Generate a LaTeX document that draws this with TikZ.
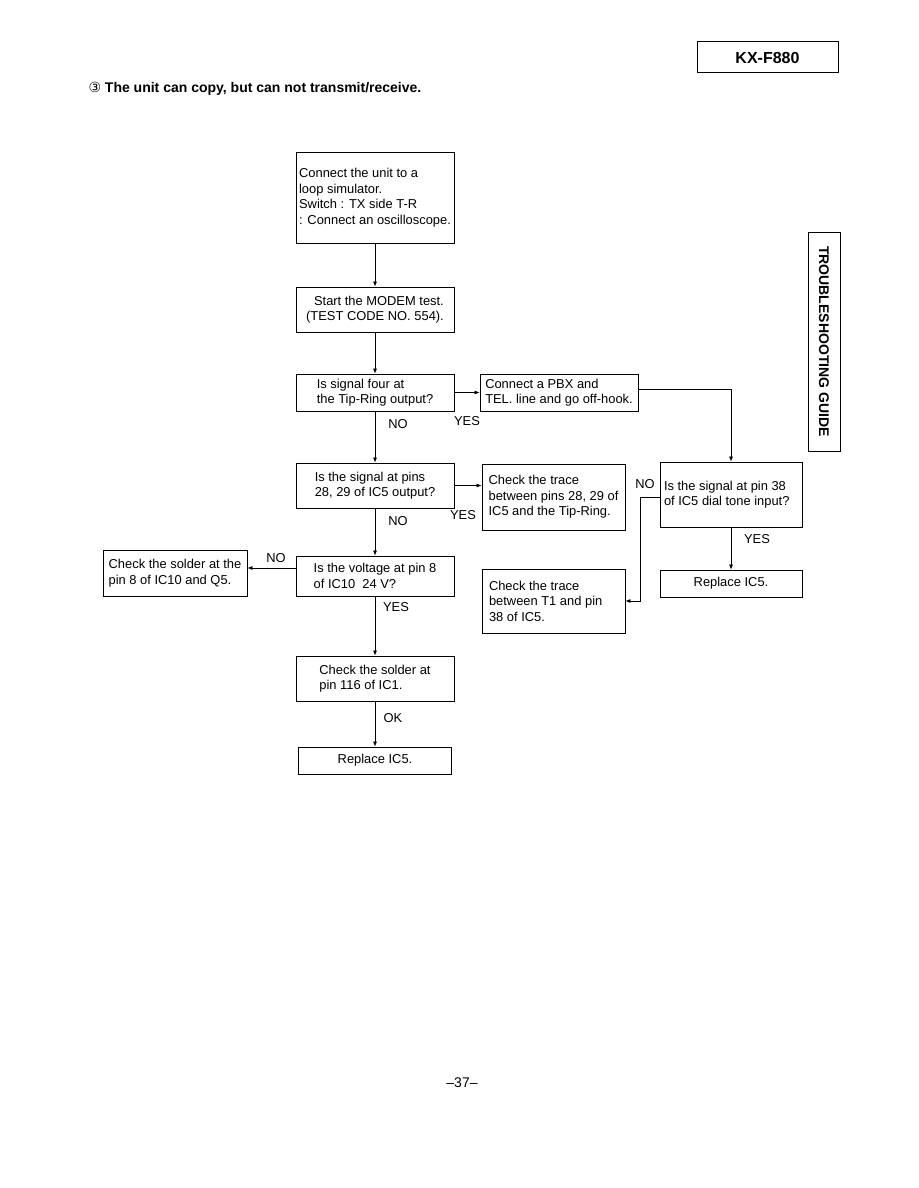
\documentclass[tikz,border=0pt]{standalone}
\usepackage{fontspec}
\setmainfont{Liberation Sans}
\newfontfamily\symfont{DejaVu Sans}
\usetikzlibrary{arrows.meta}

\begin{document}
\begin{tikzpicture}[x=1pt, y=-1pt,
    font=\fontsize{12.9}{15.6}\selectfont,
    box/.style={draw, line width=0.8pt, align=left, inner sep=3pt},
    lbl/.style={inner sep=0pt},
    arr/.style={line width=0.7pt, -{Latex[length=5pt,width=4pt]}}]
    \useasboundingbox (0,0) rectangle (918,1188);
    \def\cx{375}
    % page header
    \node[draw, line width=1pt, minimum width=141pt, minimum height=31pt, font=\fontsize{16}{19}\selectfont\bfseries] (model) at (767.5,57.5) {KX-F880};
    \node[anchor=base west, font=\fontsize{14}{17}\selectfont\bfseries] (title) at (85,93) {{\symfont\mdseries ③} The unit can copy, but can not transmit/receive.};
    \node[draw, line width=1pt, rotate=-90, minimum width=219pt, minimum height=32pt, font=\fontsize{14}{17}\selectfont\bfseries] (guide) at (824,341.5) {TROUBLESHOOTING GUIDE};
    % main column
    \node[box, minimum width=158pt, minimum height=91pt] (setup) at (\cx,197.5) {Connect the unit to a\\loop simulator.\\Switch : TX side T-R\\: Connect an oscilloscope.};
    \node[box, align=right, minimum width=158pt, minimum height=45pt] (modem) at (\cx,309.5) {Start the MODEM test.\\(TEST CODE NO. 554).};
    \node[box, minimum width=158pt, minimum height=37pt] (sigfour) at (\cx,392.5) {Is signal four at\\the Tip-Ring output?};
    \node[box, minimum width=158pt, minimum height=45pt] (sigpins) at (\cx,485.5) {Is the signal at pins\\28, 29 of IC5 output?};
    \node[box, minimum width=158pt, minimum height=40pt] (volt) at (\cx,576) {Is the voltage at pin 8\\of IC10\ \ 24 V?};
    \node[box, minimum width=158pt, minimum height=45pt] (solderic1) at (\cx,678.5) {Check the solder at\\pin 116 of IC1.};
    \node[box, minimum width=153pt, minimum height=27pt] (replaceB) at (\cx,760.5) {Replace IC5.};
    % side boxes
    \node[box, minimum width=158pt, minimum height=37pt] (pbx) at (559,392.5) {Connect a PBX and\\TEL. line and go off-hook.};
    \node[box, minimum width=143pt, minimum height=66pt] (tracetr) at (553.5,497) {Check the trace\\between pins 28, 29 of\\IC5 and the Tip-Ring.};
    \node[box, align=flush left, text width=134pt, minimum width=142pt, minimum height=65pt] (sigpin38) at (731,494.5) {Is the signal at pin 38\\of IC5 dial tone input?};
    \node[box, minimum width=142pt, minimum height=27pt] (replaceA) at (731,583.5) {Replace IC5.};
    \node[box, minimum width=144pt, minimum height=46pt] (solderq) at (175,573) {Check the solder at the\\pin 8 of IC10 and Q5.};
    \node[box, align=flush left, text width=129pt, minimum width=143pt, minimum height=64pt] (tracet1) at (553.5,601) {Check the trace\\between T1 and pin\\38 of IC5.};
    % connectors
    \draw[arr] (setup) -- (modem);
    \draw[arr] (modem) -- (sigfour);
    \draw[arr] (sigfour) -- (sigpins);
    \draw[arr] (sigpins) -- (volt);
    \draw[arr] (volt) -- (solderic1);
    \draw[arr] (solderic1) -- (replaceB);
    \draw[arr] (sigfour) -- (pbx);
    \draw[arr] ([yshift=3pt]pbx.east) -| (sigpin38.north);
    \draw[arr] (sigpins.east) -- (sigpins.east -| tracetr.west);
    \draw[arr] (sigpin38) -- (replaceA);
    \draw[arr] ([yshift=8pt]volt.west) -- ([yshift=8pt]volt.west -| solderq.east);
    \draw[arr] ([yshift=-2.5pt]sigpin38.west) -- ++(-19,0) |- (tracet1.east);
    % labels
    \node[lbl] (yesA) at (467,421) {YES};
    \node[lbl] (noA) at (398,424) {NO};
    \node[lbl] (yesB) at (463,515) {YES};
    \node[lbl] (noB) at (398,521) {NO};
    \node[lbl] (noC) at (276,558) {NO};
    \node[lbl] (yesC) at (396,607) {YES};
    \node[lbl] (okA) at (393,718) {OK};
    \node[lbl] (yesD) at (757,539) {YES};
    \node[lbl] (noD) at (645,484) {NO};
    % page number
    \node[font=\fontsize{14}{17}\selectfont] (pageno) at (462,1083) {–37–};
\end{tikzpicture}
\end{document}
